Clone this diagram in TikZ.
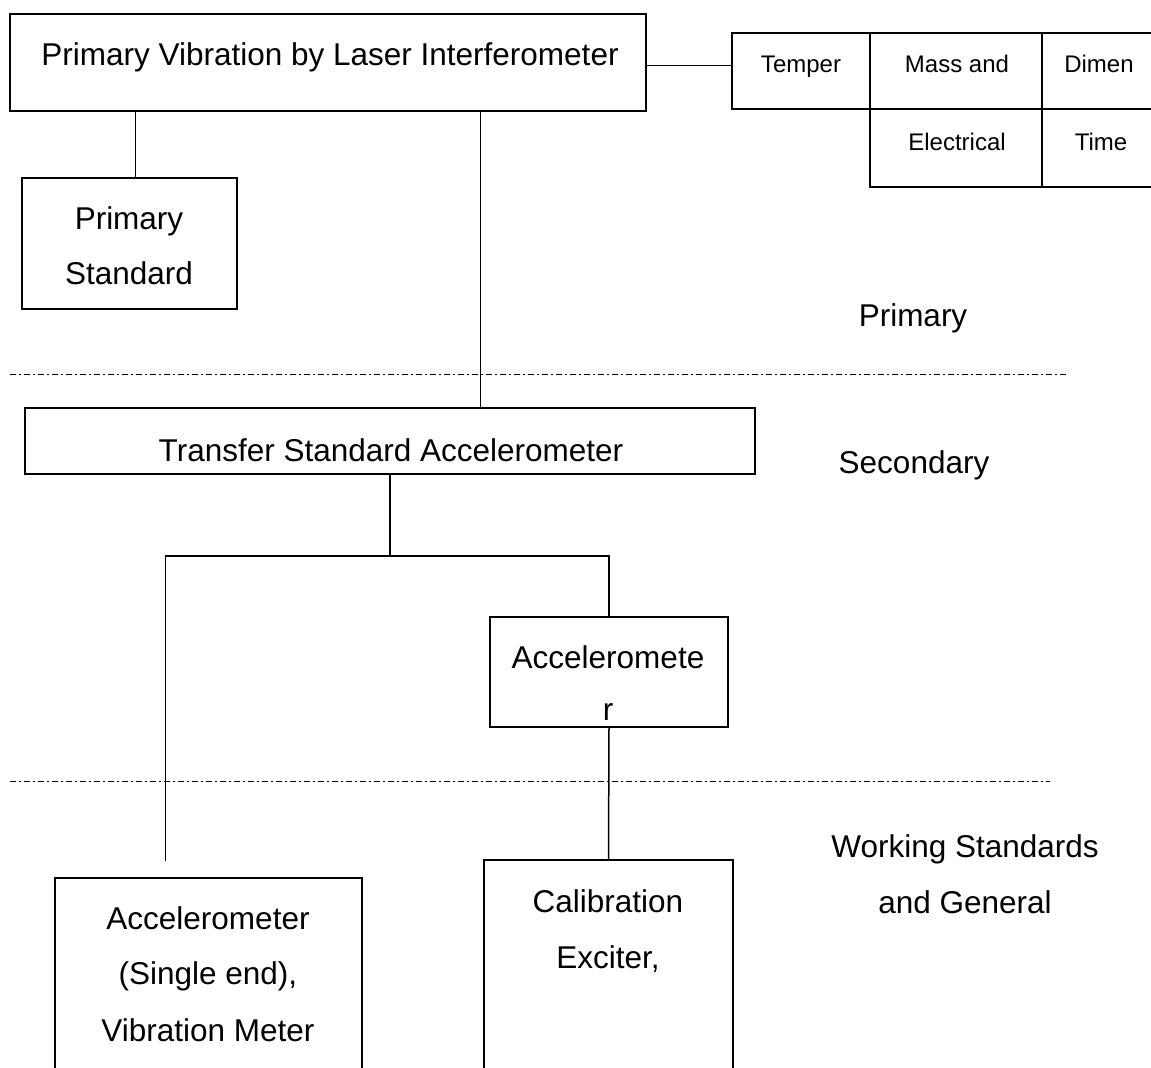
\documentclass[tikz,border=0pt]{standalone}
\usepackage{fontspec}
\setmainfont{Liberation Sans}
\usetikzlibrary{positioning,fit,calc}

\begin{document}
\begin{tikzpicture}[x=0.5pt,y=-0.5pt,
    every fit/.style={draw,inner sep=0pt,line width=0.9pt},
    boxtext/.style={anchor=base,inner sep=0pt,font=\fontsize{15.75}{18}\selectfont},
    celltext/.style={anchor=base,inner sep=0pt,font=\fontsize{12}{14}\selectfont},
    link/.style={line width=0.75pt},
    level/.style={line width=0.5pt,dash pattern=on 3pt off 1.5pt on 1pt off 1.5pt}
  ]
  \clip (0,0) rectangle (1151,1068);

  % the top box and the table of quantities
  \node [fit={(10,14) (646,111)}] (vib) {};
  \node [boxtext] (vibtext) at (330,66) {Primary Vibration by Laser Interferometer};

  \node [fit={(732,33) (870,109)}] (temper) {};
  \node [fit={(870,33) (1042,109)}] (mass) {};
  \node [fit={(1042,33) (1170,109)}] (dimen) {};
  \node [fit={(870,109) (1042,187)}] (elec) {};
  \node [fit={(1042,109) (1170,187)}] (time) {};
  \node [celltext] (tempertext) at (801,73) {Temper};
  \node [celltext] (masstext) at (957,73) {Mass and};
  \node [celltext] (dimentext) at (1099,73) {Dimen};
  \node [celltext] (electext) at (957,151) {Electrical};
  \node [celltext] (timetext) at (1101,151) {Time};

  % the primary standard
  \node [fit={(22,178) (237,309)}] (pstd) {};
  \node [boxtext] (pstdtext1) at (129,230) {Primary};
  \node [boxtext] (pstdtext2) at (129,285) {Standard};

  % the transfer standard
  \node [fit={(25,408) (755,474)}] (xfer) {};
  \node [boxtext] (xfertext) at (391,462) {Transfer Standard Accelerometer};

  % the accelerometer in the middle
  \node [fit={(490,617) (728,727)}] (accm) {};
  \node [boxtext] (accmtext1) at (608,669) {Acceleromete};
  \node [boxtext] (accmtext2) at (608,721) {r};

  % the boxes at the bottom
  \node [fit={(55,878) (362,1090)}] (accl) {};
  \node [boxtext] (accltext1) at (208,929) {Accelerometer};
  \node [boxtext] (accltext2) at (208,984) {(Single end),};
  \node [boxtext] (accltext3) at (208,1041) {Vibration Meter};

  \node [fit={(484,860) (733,1090)}] (calib) {};
  \node [boxtext] (calibtext1) at (608,912) {Calibration};
  \node [boxtext] (calibtext2) at (608,968) {Exciter,};

  % the levels
  \node [boxtext] (primary) at (913,327) {Primary};
  \node [boxtext] (secondary) at (914,474) {Secondary};
  \node [boxtext] (working1) at (965,857) {Working Standards};
  \node [boxtext] (working2) at (965,913) {and General};
  \draw [level] (10,375) -- (1068,375);
  \draw [level] (10,782) -- (1050,782);

  % the links
  \draw [link] ([yshift=-1.5pt]vib.east) -- ([yshift=-1.5pt]vib.east -| temper.west);
  \draw [link] ($(vib.south west)!0.198!(vib.south east)$) coordinate (tapa) -- (tapa |- pstd.north);
  \draw [link] ($(vib.south west)!0.739!(vib.south east)$) coordinate (tapb) -- (tapb |- xfer.north);
  \coordinate (bus) at ($(xfer.south)+(0,81)$);
  \coordinate (lt) at ($(accl.north west)!0.361!(accl.north east)$);
  \draw [link] (xfer.south) -- (bus);
  \draw [link] (accm.north) |- (lt |- bus) -- ([yshift=8pt]lt);
  \draw [link] (accm.south) -- (calib.north);
\end{tikzpicture}
\end{document}
